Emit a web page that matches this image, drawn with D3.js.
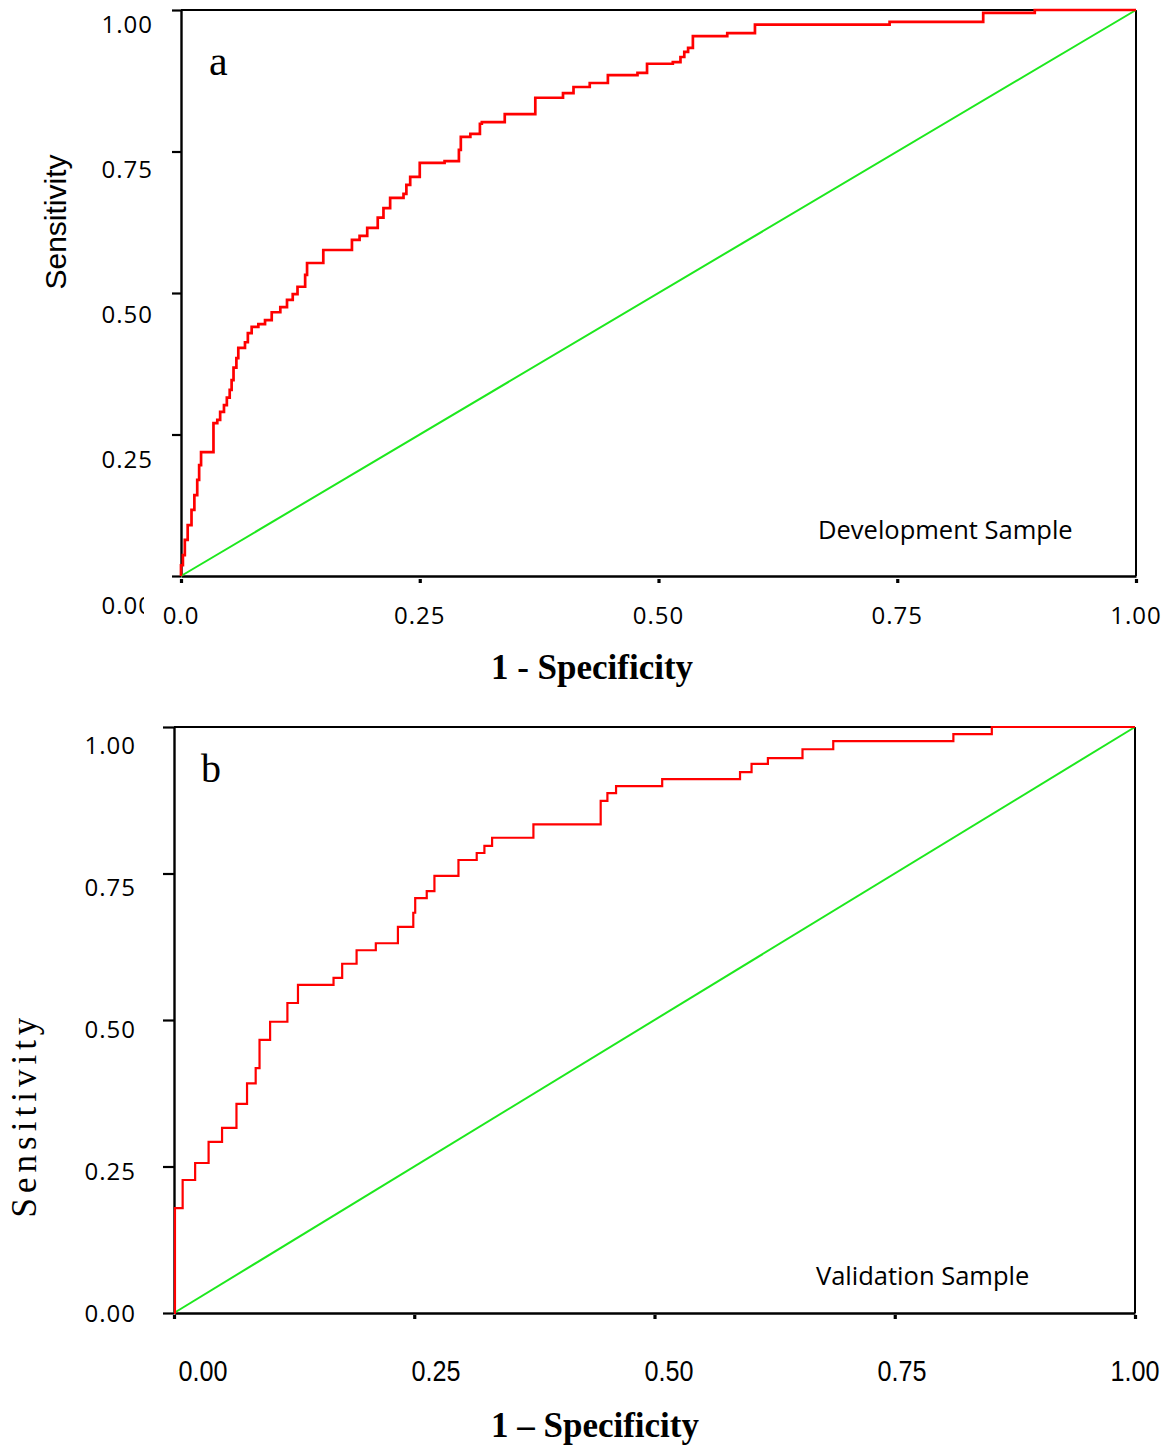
<!DOCTYPE html>
<html><head><meta charset="utf-8">
<script src="https://cdn.jsdelivr.net/npm/d3@7"></script>
<style>body{margin:0;background:#fff}</style>
</head><body>
<svg id="chart" width="1173" height="1446"></svg>
<script>
// ---------- data ----------
const tickValues = [0, 0.25, 0.5, 0.75, 1];
const xTickLabelsA = ["0.0", "0.25", "0.50", "0.75", "1.00"];
const yTickLabelsA = ["0.00", "0.25", "0.50", "0.75", "1.00"];
const xTickLabelsB = ["0.00", "0.25", "0.50", "0.75", "1.00"];
const yTickLabelsB = ["0.00", "0.25", "0.50", "0.75", "1.00"];

// Development sample ROC (1 - specificity, sensitivity)
const devFpr = [0, 0, 0.002, 0.004, 0.007, 0.011, 0.014, 0.017, 0.019, 0.021, 0.034, 0.038, 0.041, 0.045, 0.048, 0.051, 0.053, 0.055, 0.058, 0.060,
  0.067, 0.070, 0.074, 0.081, 0.088, 0.095, 0.104, 0.111, 0.117, 0.122, 0.130, 0.132, 0.149, 0.149, 0.179, 0.187, 0.195, 0.206, 0.212, 0.219,
  0.233, 0.236, 0.240, 0.250, 0.250, 0.276, 0.291, 0.293, 0.303, 0.313, 0.315, 0.339, 0.371, 0.400, 0.411, 0.428, 0.447, 0.478, 0.488, 0.515,
  0.523, 0.527, 0.531, 0.536, 0.572, 0.601, 0.742, 0.840, 0.894, 1.0];
const devTpr = [0, 0.019, 0.037, 0.064, 0.090, 0.117, 0.143, 0.170, 0.196, 0.219, 0.270, 0.276, 0.290, 0.302, 0.315, 0.329, 0.346, 0.368, 0.385, 0.403,
  0.413, 0.429, 0.440, 0.445, 0.452, 0.466, 0.475, 0.488, 0.498, 0.511, 0.532, 0.553, 0.562, 0.576, 0.594, 0.601, 0.615, 0.633, 0.650, 0.668,
  0.675, 0.691, 0.705, 0.721, 0.730, 0.733, 0.753, 0.776, 0.781, 0.799, 0.802, 0.816, 0.845, 0.853, 0.864, 0.871, 0.885, 0.889, 0.905, 0.908,
  0.917, 0.926, 0.933, 0.954, 0.959, 0.974, 0.979, 0.995, 1.0, 1.0];

// Validation sample ROC
const valFpr = [0, 0.001, 0.001, 0.009, 0.022, 0.036, 0.050, 0.065, 0.076, 0.085, 0.089, 0.100, 0.118, 0.129, 0.166, 0.175, 0.190, 0.210, 0.233, 0.249,
  0.251, 0.263, 0.271, 0.296, 0.315, 0.323, 0.331, 0.374, 0.444, 0.451, 0.460, 0.508, 0.589, 0.601, 0.618, 0.654, 0.686, 0.811, 0.851, 1.0];
const valTpr = [0, 0.079, 0.179, 0.227, 0.256, 0.292, 0.316, 0.357, 0.392, 0.418, 0.466, 0.497, 0.529, 0.560, 0.572, 0.596, 0.619, 0.631, 0.659, 0.683,
  0.708, 0.720, 0.746, 0.773, 0.785, 0.797, 0.811, 0.834, 0.874, 0.887, 0.899, 0.911, 0.923, 0.937, 0.947, 0.962, 0.976, 0.988, 1.0, 1.0];

const diagonal = [0, 1];

// ---------- drawing ----------
const svg = d3.select("#chart");
svg.append("rect").attr("width", 1173).attr("height", 1446).attr("fill", "#fff");
const defs = svg.append("defs");

function panel(cfg) {
  const x = d3.scaleLinear().domain([0, 1]).range([cfg.L, cfg.R]);
  const y = d3.scaleLinear().domain([0, 1]).range([cfg.B, cfg.T]);
  const g = svg.append("g");

  // frame: top and right
  g.append("line").attr("x1", x(0)).attr("x2", x(1)).attr("y1", y(1)).attr("y2", y(1))
    .attr("stroke", "#000").attr("stroke-width", 2.2);
  g.append("line").attr("x1", x(1)).attr("x2", x(1)).attr("y1", y(1)).attr("y2", y(0))
    .attr("stroke", "#000").attr("stroke-width", 2);

  // left axis
  const ya = g.append("g").attr("transform", `translate(${x(0)},0)`)
    .call(d3.axisLeft(y).tickValues(tickValues).tickSize(cfg.tickLen).tickSizeOuter(0).tickFormat(""));
  ya.select(".domain").attr("stroke", "#000").attr("stroke-width", 2.4);
  ya.selectAll(".tick line").attr("stroke", "#000").attr("stroke-width", 2.2);

  // bottom axis line
  const xa = g.append("g").attr("transform", `translate(0,${y(0)})`)
    .call(d3.axisBottom(x).tickValues(tickValues).tickSize(cfg.dotEnd).tickSizeOuter(0).tickFormat(""));
  xa.select(".domain").attr("stroke", "#000").attr("stroke-width", 2.6);
  xa.selectAll(".tick line").attr("y1", cfg.dotStart).attr("stroke", "#000").attr("stroke-width", 3.2);

  // diagonal reference
  g.append("line")
    .attr("x1", x(diagonal[0])).attr("y1", y(diagonal[0]))
    .attr("x2", x(diagonal[1])).attr("y2", y(diagonal[1]))
    .attr("stroke", "#1ee81e").attr("stroke-width", 2);

  // ROC curve
  const pts = cfg.fpr.map((f, i) => [f, cfg.tpr[i]]);
  g.append("path").datum(pts)
    .attr("fill", "none").attr("stroke", "#ff0000").attr("stroke-width", cfg.curveWidth)
    .attr("d", d3.line().x(d => x(d[0])).y(d => y(d[1])).curve(d3.curveStepAfter));

  // y tick labels
  const yl = d3.scaleLinear().domain([0, 1]).range(cfg.yLabelRange);
  tickValues.forEach((v, i) => {
    const t = g.append("text").attr("x", cfg.yLabelX).attr("y", yl(v))
      .attr("text-anchor", "end").attr("dominant-baseline", "central")
      .attr("font-family", "'Open Sans', sans-serif").attr("font-size", 24)
      .attr("letter-spacing", 1).attr("fill", "#000")
      .text(cfg.yLabels[i]);
    if (v === 0 && cfg.clipZeroAt) {
      const id = "clipZero" + cfg.id;
      defs.append("clipPath").attr("id", id).append("rect")
        .attr("x", 0).attr("y", 0).attr("width", cfg.clipZeroAt).attr("height", 1446);
      t.attr("clip-path", `url(#${id})`);
    }
  });

  // x tick labels
  const xl = d3.scaleLinear().domain([0, 1]).range(cfg.xLabelRange);
  const xlg = g.append("g").attr("clip-path", cfg.xLabelClip ? `url(#${cfg.xLabelClip})` : null);
  tickValues.forEach((v, i) => {
    xlg.append("text")
      .attr("transform", `translate(${xl(v)},${cfg.xLabelY}) scale(${cfg.xLabelScaleX},1)`)
      .attr("text-anchor", "middle")
      .attr("font-family", cfg.xLabelFont).attr("font-size", cfg.xLabelSize)
      .attr("letter-spacing", cfg.xLabelSpacing).attr("fill", "#000")
      .text(cfg.xLabels[i]);
  });

  // panel letter
  g.append("text").attr("x", cfg.letterX).attr("y", cfg.letterY)
    .attr("font-family", "'Liberation Serif', 'Times New Roman', serif").attr("font-size", cfg.letterSize)
    .attr("fill", "#000").text(cfg.letter);

  // sample caption
  g.append("text").attr("x", cfg.capX).attr("y", cfg.capY)
    .attr("font-family", "'Open Sans', sans-serif").attr("font-size", 25.5)
    .attr("dominant-baseline", "central").attr("fill", "#000").text(cfg.caption);

  // x title
  g.append("text").attr("x", cfg.xTitleX).attr("y", cfg.xTitleY).attr("text-anchor", "middle")
    .attr("font-family", "'Liberation Serif', 'Times New Roman', serif").attr("font-weight", "bold")
    .attr("font-size", cfg.xTitleSize).attr("fill", "#000").text(cfg.xTitle);

  // y title
  g.append("text").attr("transform", `translate(${cfg.yTitleX},${cfg.yTitleY}) rotate(-90)`)
    .attr("text-anchor", "middle").attr("font-family", cfg.yTitleFont)
    .attr("font-size", cfg.yTitleSize).attr("letter-spacing", cfg.yTitleSpacing)
    .attr("fill", "#000").text("Sensitivity");
}

defs.append("clipPath").attr("id", "clipXB").append("rect")
  .attr("x", 0).attr("y", 1340).attr("width", 1173).attr("height", 43);

panel({
  id: "A", L: 181, R: 1136, T: 10, B: 576, tickLen: 9, dotStart: 3, dotEnd: 7,
  fpr: devFpr, tpr: devTpr, curveWidth: 2.7,
  yLabels: yTickLabelsA, yLabelX: 153, yLabelRange: [604, 23], clipZeroAt: 144,
  xLabels: xTickLabelsA, xLabelRange: [181, 1136], xLabelY: 624,
  xLabelFont: "'Open Sans', sans-serif", xLabelSize: 24, xLabelSpacing: 1, xLabelScaleX: 1, xLabelClip: null,
  letter: "a", letterX: 209, letterY: 75, letterSize: 42,
  caption: "Development Sample", capX: 818, capY: 529,
  xTitle: "1 - Specificity", xTitleX: 592, xTitleY: 679, xTitleSize: 35,
  yTitleX: 66, yTitleY: 222, yTitleFont: "'Liberation Sans', Arial, sans-serif", yTitleSize: 30, yTitleSpacing: 0
});

panel({
  id: "B", L: 174, R: 1135, T: 727, B: 1313, tickLen: 11, dotStart: 2, dotEnd: 6,
  fpr: valFpr, tpr: valTpr, curveWidth: 2.2,
  yLabels: yTickLabelsB, yLabelX: 136, yLabelRange: [1312, 744], clipZeroAt: null,
  xLabels: xTickLabelsB, xLabelRange: [203, 1135], xLabelY: 1381,
  xLabelFont: "'Liberation Sans', Arial, sans-serif", xLabelSize: 30, xLabelSpacing: 0, xLabelScaleX: 0.84, xLabelClip: "clipXB",
  letter: "b", letterX: 201, letterY: 782, letterSize: 40,
  caption: "Validation Sample", capX: 816, capY: 1275,
  xTitle: "1 \u2013 Specificity", xTitleX: 595, xTitleY: 1437, xTitleSize: 35,
  yTitleX: 36, yTitleY: 1115, yTitleFont: "'Liberation Serif', 'Times New Roman', serif", yTitleSize: 35, yTitleSpacing: 5
});
</script>
</body></html>
